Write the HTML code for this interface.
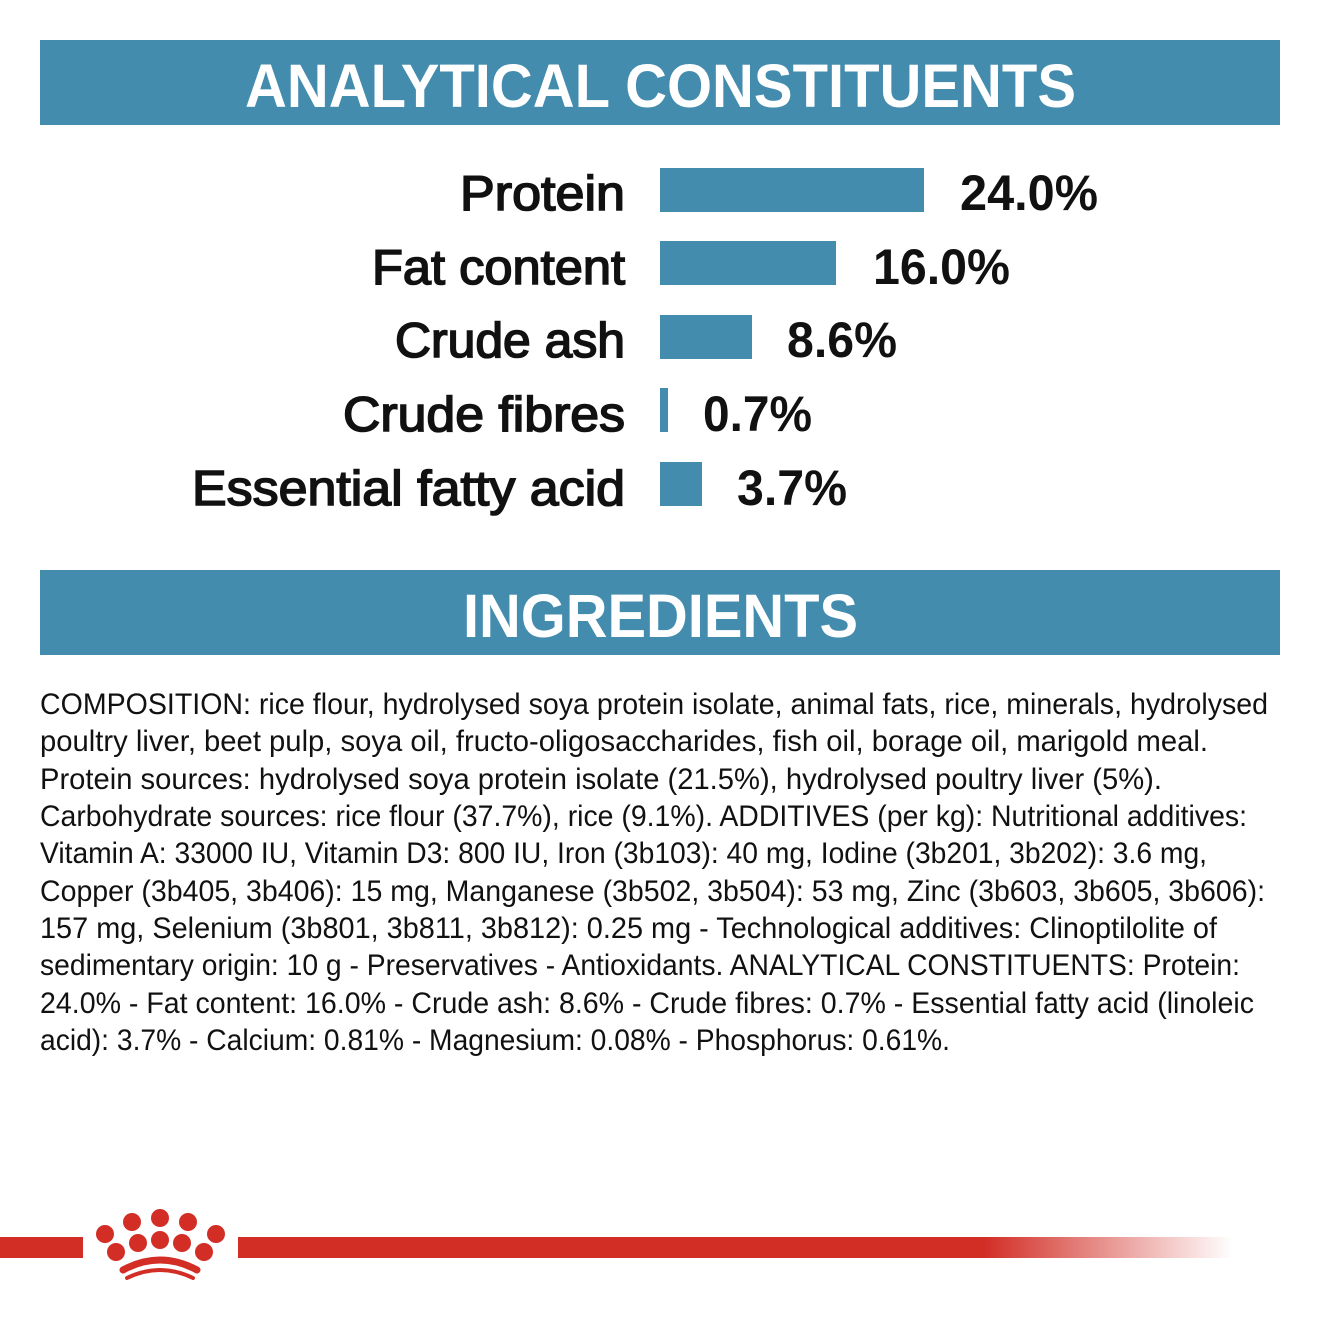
<!DOCTYPE html>
<html><head><meta charset="utf-8"><style>
html,body{margin:0;padding:0;background:#fff;width:1320px;height:1320px;overflow:hidden}
svg{display:block}
.h{font-family:"Liberation Sans",sans-serif;font-weight:bold;font-size:61px;fill:#fff}
.l{font-family:"Liberation Sans",sans-serif;font-size:49px;fill:#111;stroke:#111;stroke-width:1.6}
.v{font-family:"Liberation Sans",sans-serif;font-weight:bold;font-size:50px;fill:#111}
.t{font-family:"Liberation Sans",sans-serif;font-size:30px;fill:#111}
</style></head><body>
<svg width="1320" height="1320" viewBox="0 0 1320 1320" xmlns="http://www.w3.org/2000/svg">
<defs><linearGradient id="fade" x1="0" x2="1" y1="0" y2="0">
<stop offset="0" stop-color="#d22e26"/><stop offset="0.75" stop-color="#d22e26"/><stop offset="1" stop-color="#d22e26" stop-opacity="0"/></linearGradient></defs>
<rect x="40" y="40" width="1240" height="85" fill="#438cae"/>
<text class="h" x="245" y="107" textLength="831" lengthAdjust="spacingAndGlyphs">ANALYTICAL CONSTITUENTS</text>
<g fill="#438cae">
<rect x="660" y="168" width="264" height="44"/>
<rect x="660" y="241" width="176" height="44"/>
<rect x="660" y="315" width="92" height="44"/>
<rect x="660" y="388" width="8" height="44"/>
<rect x="660" y="462" width="42" height="44"/>
</g>
<text class="l" x="460" y="210" textLength="165" lengthAdjust="spacingAndGlyphs">Protein</text>
<text class="l" x="372" y="284" textLength="253" lengthAdjust="spacingAndGlyphs">Fat content</text>
<text class="l" x="395" y="357" textLength="230" lengthAdjust="spacingAndGlyphs">Crude ash</text>
<text class="l" x="343" y="431" textLength="282" lengthAdjust="spacingAndGlyphs">Crude fibres</text>
<text class="l" x="192" y="505" textLength="433" lengthAdjust="spacingAndGlyphs">Essential fatty acid</text>
<text class="v" x="960" y="210" textLength="138" lengthAdjust="spacingAndGlyphs">24.0%</text>
<text class="v" x="873" y="284" textLength="137" lengthAdjust="spacingAndGlyphs">16.0%</text>
<text class="v" x="787" y="357" textLength="110" lengthAdjust="spacingAndGlyphs">8.6%</text>
<text class="v" x="703" y="431" textLength="109" lengthAdjust="spacingAndGlyphs">0.7%</text>
<text class="v" x="737" y="505" textLength="110" lengthAdjust="spacingAndGlyphs">3.7%</text>
<rect x="40" y="570" width="1240" height="85" fill="#438cae"/>
<text class="h" x="463" y="637" textLength="395" lengthAdjust="spacingAndGlyphs">INGREDIENTS</text>
<g class="t">
<text x="40" y="714" textLength="1228" lengthAdjust="spacingAndGlyphs">COMPOSITION: rice flour, hydrolysed soya protein isolate, animal fats, rice, minerals, hydrolysed</text>
<text x="40" y="751" textLength="1168" lengthAdjust="spacingAndGlyphs">poultry liver, beet pulp, soya oil, fructo-oligosaccharides, fish oil, borage oil, marigold meal.</text>
<text x="40" y="789" textLength="1122" lengthAdjust="spacingAndGlyphs">Protein sources: hydrolysed soya protein isolate (21.5%), hydrolysed poultry liver (5%).</text>
<text x="40" y="826" textLength="1207" lengthAdjust="spacingAndGlyphs">Carbohydrate sources: rice flour (37.7%), rice (9.1%). ADDITIVES (per kg): Nutritional additives:</text>
<text x="40" y="863" textLength="1167" lengthAdjust="spacingAndGlyphs">Vitamin A: 33000 IU, Vitamin D3: 800 IU, Iron (3b103): 40 mg, Iodine (3b201, 3b202): 3.6 mg,</text>
<text x="40" y="901" textLength="1225" lengthAdjust="spacingAndGlyphs">Copper (3b405, 3b406): 15 mg, Manganese (3b502, 3b504): 53 mg, Zinc (3b603, 3b605, 3b606):</text>
<text x="40" y="938" textLength="1177" lengthAdjust="spacingAndGlyphs">157 mg, Selenium (3b801, 3b811, 3b812): 0.25 mg - Technological additives: Clinoptilolite of</text>
<text x="40" y="975" textLength="1200" lengthAdjust="spacingAndGlyphs">sedimentary origin: 10 g - Preservatives - Antioxidants. ANALYTICAL CONSTITUENTS: Protein:</text>
<text x="40" y="1013" textLength="1214" lengthAdjust="spacingAndGlyphs">24.0% - Fat content: 16.0% - Crude ash: 8.6% - Crude fibres: 0.7% - Essential fatty acid (linoleic</text>
<text x="40" y="1050" textLength="910" lengthAdjust="spacingAndGlyphs">acid): 3.7% - Calcium: 0.81% - Magnesium: 0.08% - Phosphorus: 0.61%.</text>
</g>
<rect x="0" y="1237" width="83" height="21" fill="#d22e26"/>
<rect x="238" y="1237" width="995" height="21" fill="url(#fade)"/>
<g fill="#d22e26">
<circle cx="105" cy="1234" r="9"/>
<circle cx="132" cy="1222" r="9"/>
<circle cx="160" cy="1218" r="9"/>
<circle cx="188" cy="1222" r="9"/>
<circle cx="216" cy="1234" r="9"/>
<circle cx="116" cy="1252" r="9"/>
<circle cx="138" cy="1243" r="9"/>
<circle cx="160" cy="1240" r="9"/>
<circle cx="182" cy="1243" r="9"/>
<circle cx="204" cy="1252" r="9"/>
</g>
<path d="M123 1270 Q160 1250 197 1270" stroke="#d22e26" stroke-width="7" fill="none" stroke-linecap="round"/>
<path d="M127 1278 Q160 1262 193 1278" stroke="#d22e26" stroke-width="4" fill="none" stroke-linecap="round"/>
</svg>
</body></html>
